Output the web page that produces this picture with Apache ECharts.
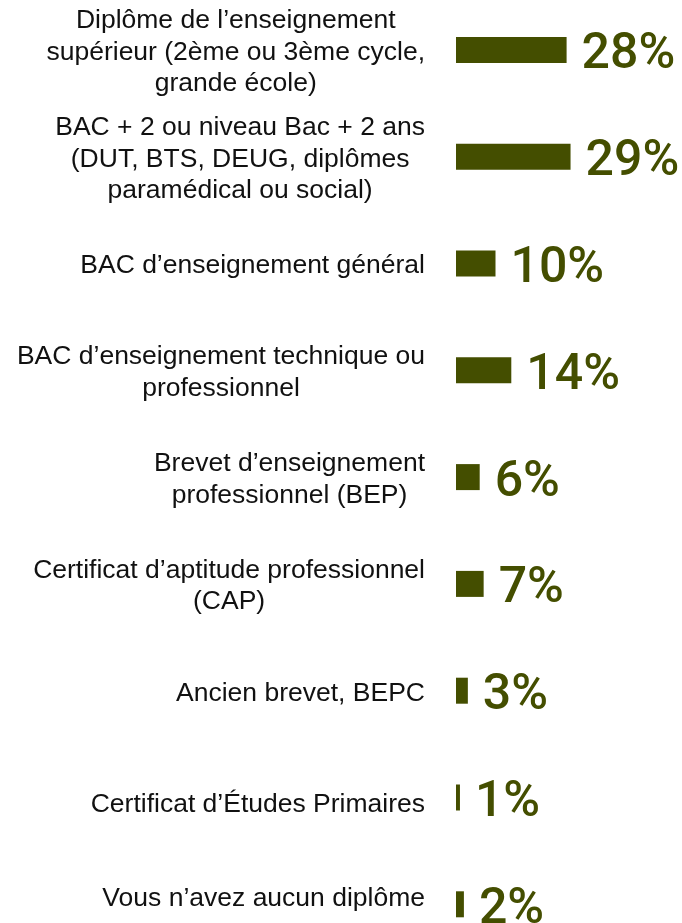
<!DOCTYPE html>
<html>
<head>
<meta charset="utf-8">
<style>
  html, body { margin: 0; padding: 0; background: #ffffff; }
  #chart { width: 682px; height: 923px; }
</style>
<script src="https://cdn.jsdelivr.net/npm/echarts@6/dist/echarts.min.js"></script>
</head>
<body>
<div id="chart"></div>
<script>
// Niveau de diplôme le plus élevé obtenu (en %)
const categories = [
  'Diplôme de l’enseignement\nsupérieur (2ème ou 3ème cycle,\ngrande école)',
  'BAC + 2 ou niveau Bac + 2 ans\n(DUT, BTS, DEUG, diplômes\nparamédical ou social)',
  'BAC d’enseignement général',
  'BAC d’enseignement technique ou\nprofessionnel',
  'Brevet d’enseignement\nprofessionnel (BEP)',
  'Certificat d’aptitude professionnel\n(CAP)',
  'Ancien brevet, BEPC',
  'Certificat d’Études Primaires',
  'Vous n’avez aucun diplôme'
];
const shares = [28, 29, 10, 14, 6, 7, 3, 1, 2];

const OLIVE = '#444e00';
const valueFont = 'Roboto, "DejaVu Sans Condensed", sans-serif';
const labelFont = '"Liberation Sans", Arial, sans-serif';

// a couple of labels sit slightly off their bar's centre line
const labelPadding = {
  'Certificat d’Études Primaires': [14, 0, 0, 0],
  'Vous n’avez aucun diplôme': [0, 0, 12, 0]
};
const categoryData = categories.map(name => (
  labelPadding[name]
    ? { value: name, textStyle: { padding: labelPadding[name] } }
    : name
));

const chart = echarts.init(document.getElementById('chart'), null, { renderer: 'canvas' });

chart.setOption({
  animation: false,
  backgroundColor: '#ffffff',
  grid: {
    left: 456, top: -3.5, height: 961.2, width: 197.5,
    containLabel: false, outerBoundsMode: 'none'
  },
  xAxis: {
    type: 'value', min: 0, max: 50, show: false
  },
  yAxis: {
    type: 'category',
    inverse: true,
    data: categoryData,
    axisLine: { show: false },
    axisTick: { show: false },
    splitLine: { show: false },
    axisLabel: {
      margin: 31,
      align: 'right',
      padding: [5, 0, 0, 0],
      // each line centred inside the right-aligned label block
      formatter: (v) => v.split('\n').map(l => '{c|' + l + '}').join('\n'),
      rich: {
        c: {
          align: 'center',
          fontSize: 26.5,
          lineHeight: 31.5,
          color: '#111111',
          fontFamily: labelFont
        }
      }
    }
  },
  series: [{
    type: 'bar',
    data: shares,
    barWidth: 26,
    itemStyle: { color: OLIVE },
    label: {
      show: true,
      position: 'right',
      distance: 15,
      offset: [0, 6],
      formatter: '{c}%',
      color: OLIVE,
      fontSize: 50,
      fontWeight: 500,
      fontFamily: valueFont
    }
  }]
});
</script>
</body>
</html>
